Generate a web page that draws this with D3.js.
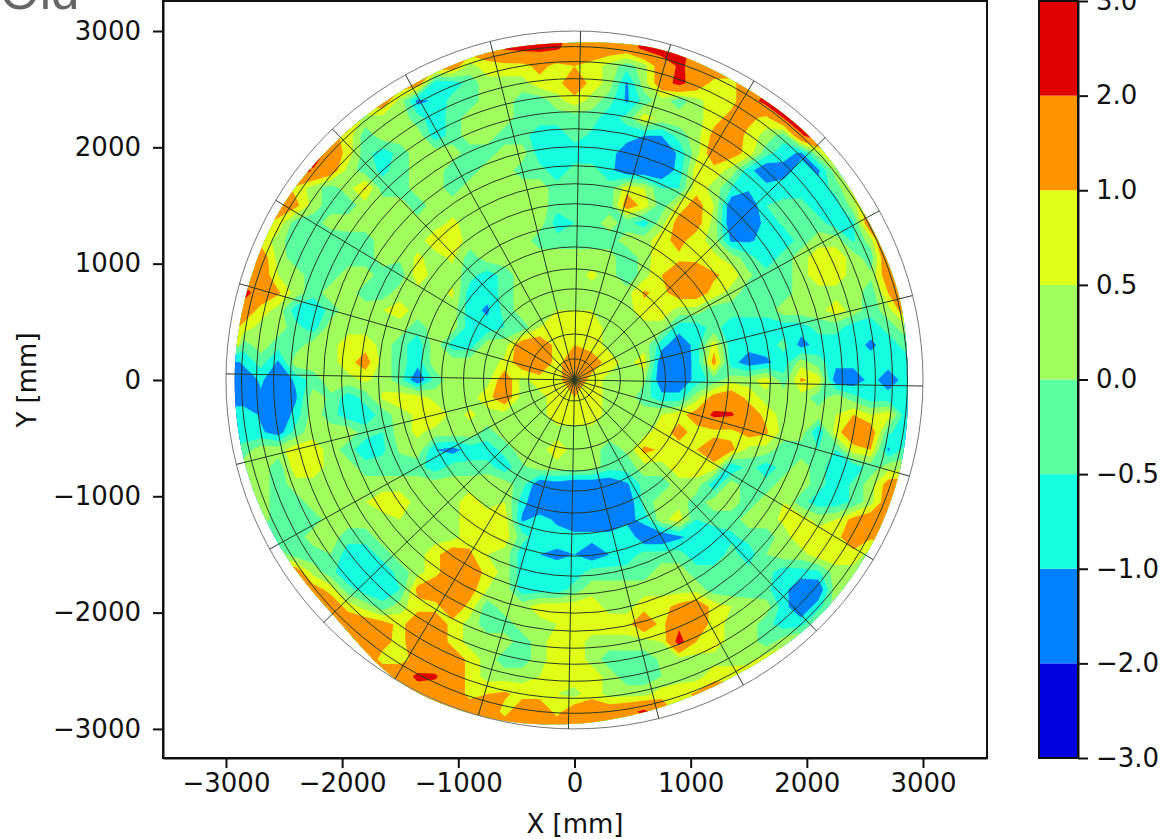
<!DOCTYPE html>
<html>
<head>
<meta charset="utf-8">
<script src="https://cdn.jsdelivr.net/npm/d3@7"></script>
<style>
html, body { margin: 0; padding: 0; background: #fff; overflow: hidden; }
svg { display: block; }
text { font-family: "DejaVu Sans"; fill: #111; }
</style>
</head>
<body>
<div id="p"></div>
<script>
// levels and colours of the filled contours
var levels = [-3, -2, -1, -0.5, 0, 0.5, 1, 2, 3];
var levelColors = ["#0000e0", "#0080ff", "#16ffe1", "#5cffa0", "#a0ff5c", "#e1ff16", "#ff9400", "#e00000"];
var levelLabels = ["\u22123.0", "\u22122.0", "\u22121.0", "\u22120.5", "0.0", "0.5", "1.0", "2.0", "3.0"];
var axisTicks = [-3000, -2000, -1000, 0, 1000, 2000, 3000];

// polar grid overlay
var ringRadii = [181, 396, 594, 783, 955, 1144, 1325, 1515, 1687, 1842, 2005, 2160, 2306, 2444, 2590, 2737, 2866, 3000];
var spokeAngles = [-1, 14, 29, 44, 59, 74, 89, 104, 119, 134, 149, 164, 179, 194, 209, 224, 239, 254, 269, 284, 299, 314, 329, 344];

// measured edge of the surface (degrees, mm)
var edgeAngles = [0, 15, 30, 45, 60, 75, 90, 105, 120, 135, 150, 165, 180, 195, 210, 225, 240, 255, 270, 285, 300, 315, 330, 345];
var edgeRadii = [2870, 2885, 2875, 2910, 2910, 2935, 2900, 2910, 2895, 2900, 2925, 2920, 2925, 2925, 2910, 2900, 3000, 3000, 2955, 2910, 2895, 2925, 2925, 2905];

// surface deviation, tenths of a unit, 150 mm spacing, top row is y = +3000
var gridStep = 150;
var deviation = [
[15,15,15,15,15,15,15,15,15,15,15,15,15,15,15,15,30,30,30,30,15,15,15,15,30,30,30,15,15,15,15,15,15,15,15,15,15,15,15,15,15],
[15,15,15,15,15,15,15,15,15,15,15,15,15,15,15,15,21,22,22,21,15,15,15,15,22,24,26,15,15,15,15,15,15,15,15,15,15,15,15,15,15],
[15,15,15,15,15,15,15,15,15,15,15,15,15,15,3,8,8,8,12,8,10,8,3,-3,3,15,21,18,16,15,15,15,15,15,15,15,15,15,15,15,15],
[15,15,15,15,15,15,15,15,15,15,15,15,-8,-8,-3,3,3,3,8,8,15,8,3,-11,3,15,23,15,8,8,15,15,15,15,15,15,15,15,15,15,15],
[15,15,15,15,15,15,15,15,15,15,3,-12,-9,-3,-3,3,3,-3,-3,3,8,3,-3,-11,-3,3,-3,3,8,8,15,24,25,25,25,25,25,25,25,25,25],
[15,15,15,15,15,15,15,15,3,3,3,-3,-8,-3,3,3,3,-3,-3,-3,-3,-3,-8,-3,8,3,3,3,8,12,12,8,20,25,25,25,25,25,25,25,25],
[15,15,15,15,15,15,12,8,-3,3,3,3,-8,-3,3,3,-3,-3,-8,-8,-3,-6,-8,-8,-10,-10,-3,3,12,15,8,3,-3,19,25,25,25,25,25,25,25],
[15,15,15,15,15,28,15,8,-3,-8,-3,3,3,3,-3,-3,3,3,-8,-8,-8,-8,-8,-13,-15,-15,-9,3,15,13,8,-3,-8,-11,3,15,15,15,15,15,15],
[15,15,15,15,30,19,15,3,-3,-6,-3,3,3,-3,-3,3,3,-3,-3,-8,-3,-3,-8,-15,-15,-15,-8,8,8,3,-8,-15,-12,-8,-11,3,15,15,15,15,15],
[15,15,15,15,8,3,-3,3,11,-3,-3,3,3,-3,3,3,3,3,3,-3,-3,-3,-3,8,5,-5,-5,8,3,-5,-9,-8,-8,-8,-8,-3,8,15,15,15,15],
[15,15,15,15,12,3,-3,-3,3,3,3,-3,3,3,3,3,3,3,3,-3,-3,-3,-3,14,8,-3,7,13,5,-15,-15,-5,-3,-3,-8,-8,3,15,15,15,15],
[15,15,12,8,-3,-3,3,3,3,3,3,2,3,6,3,3,3,3,3,-8,-5,-3,3,-3,-8,3,13,13,3,-15,-15,-8,-4,-3,-3,-8,-6,19,28,25,25],
[15,15,8,3,-5,-2,-5,-3,-3,3,3,3,8,8,3,3,3,3,-3,-3,-3,-3,-3,3,3,8,12,7,3,-11,-11,-8,-8,-3,3,3,-6,3,25,25,25],
[15,15,15,3,-3,-3,-5,-3,-3,3,1,6,3,6,-3,3,3,3,3,3,3,3,3,-5,3,8,9,9,6,3,-3,-8,-3,3,8,8,3,-3,19,28,25],
[15,15,15,5,3,-3,-3,3,3,-3,-3,8,3,3,-3,-8,-3,3,3,3,3,6,3,-5,3,10,14,13,11,8,1,-3,-3,3,8,8,3,1,15,25,25],
[15,24,15,11,3,-3,3,3,-3,-3,3,3,3,6,-8,-8,-3,3,3,3,3,3,3,3,11,8,14,14,8,3,-3,-3,-3,3,3,3,3,-3,10,24,25],
[15,15,8,3,-8,-10,-3,3,3,5,7,3,3,3,-8,-11,-3,3,3,5,5,5,3,3,8,8,3,3,-3,-3,-3,-3,3,3,3,8,3,-3,3,15,15],
[15,8,3,3,-3,-8,3,3,3,3,3,-3,3,3,-8,-8,-5,-3,5,8,8,8,3,3,3,3,-8,-8,-3,-8,-8,-8,-8,-8,-3,-3,-8,-8,-3,3,8],
[25,-3,3,-3,-3,3,3,8,8,3,-3,-8,3,-8,-8,3,3,15,15,8,10,8,3,3,3,-8,-14,-8,8,-8,-8,-8,-3,-12,-8,-8,-8,-11,-8,-3,-3],
[-15,-9,-3,-11,3,3,3,8,13,3,-3,-8,3,3,3,3,6,15,15,8,15,13,8,3,8,-15,-15,-8,13,-8,-13,-11,-8,3,-3,-8,-8,-8,-8,-8,-8],
[-15,-15,-9,-15,-9,-3,3,3,6,3,-3,-15,-3,3,3,3,15,3,8,8,15,8,3,3,1,-15,-15,-8,-3,3,3,8,-3,11,8,-14,-14,-8,-13,-8,-8],
[-15,-15,-11,-15,-11,3,-1,-8,-3,6,8,8,3,3,3,8,15,3,3,8,10,8,3,3,-3,-8,-8,3,13,15,8,3,3,3,-3,3,-3,-8,-8,-8,-8],
[-5,-5,-11,-15,-8,3,-3,-8,-8,-3,3,6,10,3,6,3,3,3,3,8,8,8,3,3,3,5,8,13,22,21,15,8,3,3,3,5,10,5,8,-8,-8],
[-8,-8,-9,-13,-3,3,3,4,-3,-5,3,6,3,3,3,-2,3,3,3,3,3,3,3,3,3,8,12,8,8,8,13,11,3,3,-10,8,15,15,-4,-8,-8],
[-3,-3,3,3,8,8,3,-3,-8,-6,1,3,-10,-12,-8,-8,-3,3,3,8,3,3,-3,1,12,9,8,10,15,12,3,3,-3,-3,-5,-5,8,10,-11,-3,3],
[3,3,3,-3,8,8,3,3,-3,-3,-3,-3,-8,-3,-3,-3,-8,-1,3,3,3,3,-3,-3,3,3,8,8,8,-10,-3,-8,-3,3,-3,-8,-8,-3,3,3,3],
[3,3,3,-3,3,3,3,3,3,3,3,3,3,3,3,5,3,-3,-15,-13,-15,-15,-15,-11,-3,-3,3,3,-9,3,-3,-3,3,3,-3,-8,-4,3,13,15,15],
[3,3,3,-3,-3,3,3,3,5,8,8,3,5,3,8,3,5,-8,-15,-15,-15,-15,-15,-15,-3,3,3,-3,3,3,-3,3,5,-3,-8,-8,-4,3,15,15,15],
[3,3,3,-3,-3,-3,3,3,3,3,5,3,3,3,8,8,8,-11,-8,-11,-15,-15,-15,-12,-8,3,8,-5,-3,-3,3,3,6,8,3,5,12,15,15,15,15],
[-3,-3,-3,-3,-3,3,3,-3,-3,3,3,3,3,3,8,8,8,-3,-8,-8,-8,-8,-8,-5,-15,-15,-11,-8,-8,-6,-3,-3,3,8,8,8,15,11,15,15,15],
[3,3,3,3,-3,-3,0,-8,-8,-3,3,3,8,15,11,5,3,-8,-10,-11,-10,-14,-10,-8,-3,-3,-3,-8,-8,-3,-8,0,3,3,8,8,8,3,3,3,3],
[15,15,15,15,15,3,-3,-10,-8,-8,-3,3,8,15,15,8,3,-8,-8,-8,-8,-3,-3,-3,-3,3,3,-3,-3,-3,-3,-3,-8,-7,-6,3,3,3,3,3,3],
[15,15,15,15,15,13,8,-3,-8,-9,-5,12,15,15,13,5,3,-8,-8,-8,-3,3,3,3,3,3,3,3,-3,-3,-3,-4,-8,-15,-15,3,3,3,3,3,3],
[15,15,15,15,15,15,15,8,3,-3,3,8,8,15,8,-3,3,3,8,8,8,8,3,3,8,8,12,15,8,5,3,3,-8,-15,-7,3,3,3,3,3,3],
[15,15,15,15,15,15,15,15,15,13,8,15,15,8,3,-3,-3,3,3,5,8,8,8,8,16,8,18,14,8,3,3,-3,-8,-7,3,3,3,3,3,3,3],
[15,15,15,15,15,15,15,15,15,12,8,15,15,8,3,3,3,-3,3,8,8,3,3,3,3,5,24,10,8,3,3,-3,3,8,8,8,8,8,8,8,8],
[15,15,15,15,15,15,15,15,15,8,8,12,15,15,8,3,-3,-3,3,8,8,3,-3,-3,-3,1,3,3,3,3,3,8,11,15,15,15,15,15,15,15,15],
[15,15,15,15,15,15,15,15,15,15,15,22,21,15,8,3,3,3,5,8,8,8,3,-3,-3,0,3,3,8,8,9,15,15,15,15,15,15,15,15,15,15],
[15,15,15,15,15,15,15,15,15,15,15,15,15,15,8,10,11,8,8,5,3,8,3,3,3,8,8,11,15,15,15,15,15,15,15,15,15,15,15,15,15],
[15,15,15,15,15,15,15,15,15,15,15,15,15,15,15,15,8,15,15,8,15,15,15,17,22,15,8,8,8,8,8,8,8,8,8,8,8,8,8,8,8],
[15,15,15,15,15,15,15,15,15,15,15,15,15,15,15,15,15,15,15,15,15,15,15,15,15,15,15,15,15,15,15,15,15,15,15,15,15,15,15,15,15]
];

var W = 1163, H = 839;
var svg = d3.select("#p").append("svg").attr("width", W).attr("height", H);

// scales, y is mm up
var x = d3.scaleLinear().domain([-3542, 3551]).range([163, 987]);
var y = d3.scaleLinear().domain([-3250, 3258]).range([758, 1]);

// cropped title at the very top of the picture
svg.append("text")
    .attr("x", 0).attr("y", 9)
    .style("font-family", "Liberation Sans").style("font-size", "51px").style("fill", "#666")
    .text("Old");

// grid cell to mm
var nCols = deviation[0].length, nRows = deviation.length;
var colToX = d3.scaleLinear().domain([0.5, nCols - 0.5]).range([-gridStep * (nCols - 1) / 2, gridStep * (nCols - 1) / 2]);
var rowToY = d3.scaleLinear().domain([0.5, nRows - 0.5]).range([gridStep * (nRows - 1) / 2, -gridStep * (nRows - 1) / 2]);

var contours = d3.contours().size([nCols, nRows]).thresholds(levels.slice(0, 8))(d3.merge(deviation).map(function(d) { return d / 10; }));
var contourPath = d3.geoPath(d3.geoTransform({
    point: function(cx, cy) { this.stream.point(x(colToX(cx)), y(rowToY(cy))); }
}));

// clip filled area to the measured edge
var edgeLine = d3.line()
    .x(function(d, i) { return x(edgeRadii[i] * Math.cos(d * Math.PI / 180)); })
    .y(function(d, i) { return y(edgeRadii[i] * Math.sin(d * Math.PI / 180)); })
    .curve(d3.curveCardinalClosed);
svg.append("clipPath").attr("id", "edge").append("path").attr("d", edgeLine(edgeAngles));

svg.append("g").attr("clip-path", "url(#edge)")
    .selectAll("path")
    .data(contours)
    .enter().append("path")
    .attr("d", contourPath)
    .attr("fill", function(d, i) { return levelColors[i]; });

// polar overlay
var overlay = svg.append("g").attr("fill", "none");
overlay.selectAll("ellipse")
    .data(ringRadii)
    .enter().append("ellipse")
    .attr("cx", x(0)).attr("cy", y(0))
    .attr("rx", function(d) { return x(d) - x(0); })
    .attr("ry", function(d) { return y(0) - y(d); })
    .attr("stroke", function(d, i) { return i == ringRadii.length - 1 ? "#777" : "#263a26"; })
    .attr("stroke-width", 1);
overlay.selectAll("line")
    .data(spokeAngles)
    .enter().append("line")
    .attr("x1", x(0)).attr("y1", y(0))
    .attr("x2", function(d) { return x(3000 * Math.cos(d * Math.PI / 180)); })
    .attr("y2", function(d) { return y(3000 * Math.sin(d * Math.PI / 180)); })
    .attr("stroke", "#263a26").attr("stroke-width", 1);

// axes
function styleAxis(g) {
    g.selectAll("text").style("font-size", "26px").style("font-family", "DejaVu Sans").attr("fill", "#111");
    g.selectAll("line").attr("stroke", "#111").attr("stroke-width", 2);
    g.selectAll("path").attr("stroke", "#111").attr("stroke-width", 2);
}
var fmt = function(d) { return d3.format("d")(d).replace("-", "\u2212"); };
svg.append("g").attr("transform", "translate(0,758)")
    .call(d3.axisBottom(x).tickValues(axisTicks).tickFormat(fmt).tickSize(10).tickPadding(6).tickSizeOuter(0))
    .call(styleAxis);
svg.append("g").attr("transform", "translate(163,0)")
    .call(d3.axisLeft(y).tickValues(axisTicks).tickFormat(fmt).tickSize(10).tickPadding(12).tickSizeOuter(0))
    .call(styleAxis);
svg.append("rect").attr("x", 163).attr("y", 1).attr("width", 824).attr("height", 757)
    .attr("fill", "none").attr("stroke", "#111").attr("stroke-width", 2);

svg.append("text").attr("x", 575).attr("y", 833).attr("text-anchor", "middle")
    .style("font-size", "26px").text("X [mm]");
svg.append("text").attr("transform", "translate(36,380) rotate(-90)").attr("text-anchor", "middle")
    .style("font-size", "26px").text("Y [mm]");

// colour bar, levels spaced evenly
var cb = d3.scalePoint().domain(levelLabels).range([758, 1]);
svg.append("g").selectAll("rect")
    .data(levelColors)
    .enter().append("rect")
    .attr("x", 1039).attr("width", 39)
    .attr("y", function(d, i) { return cb(levelLabels[i + 1]); })
    .attr("height", function(d, i) { return cb(levelLabels[i]) - cb(levelLabels[i + 1]); })
    .attr("fill", function(d) { return d; });
svg.append("g").attr("transform", "translate(1078,0)")
    .call(d3.axisRight(cb).tickSize(10).tickPadding(8).tickSizeOuter(0))
    .call(styleAxis);
svg.append("rect").attr("x", 1039).attr("y", 1).attr("width", 39).attr("height", 757)
    .attr("fill", "none").attr("stroke", "#111").attr("stroke-width", 2);
</script>
</body>
</html>
